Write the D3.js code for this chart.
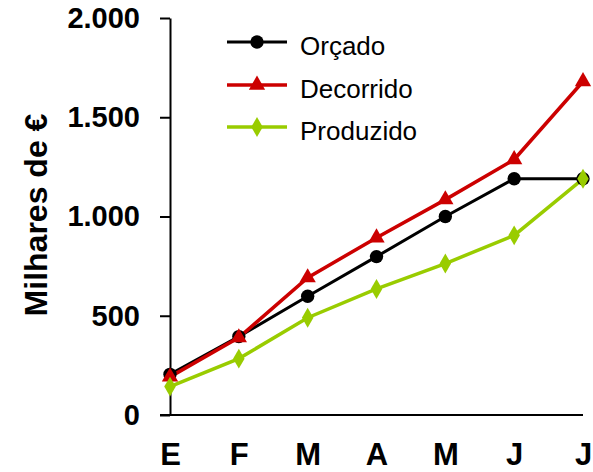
<!DOCTYPE html>
<html>
<head>
<meta charset="utf-8">
<script src="https://cdn.jsdelivr.net/npm/d3@7"></script>
<style>
  html, body { margin: 0; padding: 0; background: #fff; }
  svg { display: block; font-family: "Liberation Sans", Arial, sans-serif; }
</style>
</head>
<body>
<svg id="chart" width="593" height="472"></svg>
<script>
const months = ["E", "F", "M", "A", "M", "J", "J"];
const orcado = [205, 395, 598, 798, 1000, 1190, 1190];
const decorrido = [192, 390, 692, 893, 1085, 1287, 1680];
const produzido = [143, 284, 490, 635, 763, 905, 1190];
const yTicks = [0, 500, 1000, 1500, 2000];
const seriesNames = ["Orçado", "Decorrido", "Produzido"];

const series = [
  { name: seriesNames[0], values: orcado, color: "#000000", symbol: d3.symbolCircle, size: 140, width: 3 },
  { name: seriesNames[1], values: decorrido, color: "#CC0000", symbol: d3.symbolTriangle, size: 115, width: 3.5 },
  { name: seriesNames[2], values: produzido, color: "#99CC00", symbol: d3.symbolDiamond, size: 115, width: 3.5 }
];

const svg = d3.select("#chart");
const x = d3.scalePoint().domain(d3.range(months.length)).range([170, 583]);
const y = d3.scaleLinear().domain([0, 2000]).range([415, 18]);

const loc = d3.formatLocale({ decimal: ",", thousands: ".", grouping: [3], currency: ["", "€"] });
const fmt = loc.format(",d");

// Y axis
const yAxis = svg.append("g")
  .attr("transform", "translate(170,0)")
  .call(d3.axisLeft(y).tickValues(yTicks).tickSize(10).tickSizeOuter(0).tickPadding(20).tickFormat(fmt));
yAxis.select(".domain").attr("stroke", "#000").attr("stroke-width", 2);
yAxis.selectAll(".tick line").attr("stroke", "#000").attr("stroke-width", 2);
yAxis.selectAll(".tick text")
  .attr("font-size", 29).attr("font-weight", "bold").attr("fill", "#000")
  .attr("font-family", "Liberation Sans, Arial, sans-serif");

// X axis
const xAxis = svg.append("g")
  .attr("transform", "translate(0,415)")
  .call(d3.axisBottom(x).tickSize(0).tickSizeOuter(0).tickPadding(28).tickFormat(i => months[i]));
xAxis.select(".domain").attr("stroke", "#000").attr("stroke-width", 2)
  .attr("d", `M160,0H583`);
xAxis.selectAll(".tick text")
  .attr("font-size", 31).attr("font-weight", "bold").attr("fill", "#000")
  .attr("font-family", "Liberation Sans, Arial, sans-serif");

// Y title
svg.append("text")
  .attr("transform", "translate(47,215) rotate(-90)")
  .attr("text-anchor", "middle")
  .attr("font-size", 32).attr("font-weight", "bold")
  .text("Milhares de €");

// Lines
const line = d3.line().x((d, i) => x(i)).y(d => y(d));
series.forEach(s => {
  svg.append("path")
    .attr("d", line(s.values))
    .attr("fill", "none")
    .attr("stroke", s.color)
    .attr("stroke-width", s.width);
});
series.forEach(s => {
  svg.append("g").selectAll("path")
    .data(s.values)
    .join("path")
    .attr("transform", (d, i) => `translate(${x(i)},${y(d)})`)
    .attr("d", d3.symbol(s.symbol, s.size))
    .attr("fill", s.color);
});

// Legend
const legendY = [42, 85, 127];
series.forEach((s, i) => {
  const g = svg.append("g").attr("transform", `translate(0,${legendY[i]})`);
  g.append("line").attr("x1", 227).attr("x2", 287).attr("y1", 0).attr("y2", 0)
    .attr("stroke", s.color).attr("stroke-width", s.width);
  g.append("path").attr("transform", "translate(257,0)")
    .attr("d", d3.symbol(s.symbol, s.size)).attr("fill", s.color);
  g.append("text").attr("x", 300).attr("y", 4).attr("dy", "0.35em")
    .attr("font-size", 26).text(s.name);
});
</script>
</body>
</html>
